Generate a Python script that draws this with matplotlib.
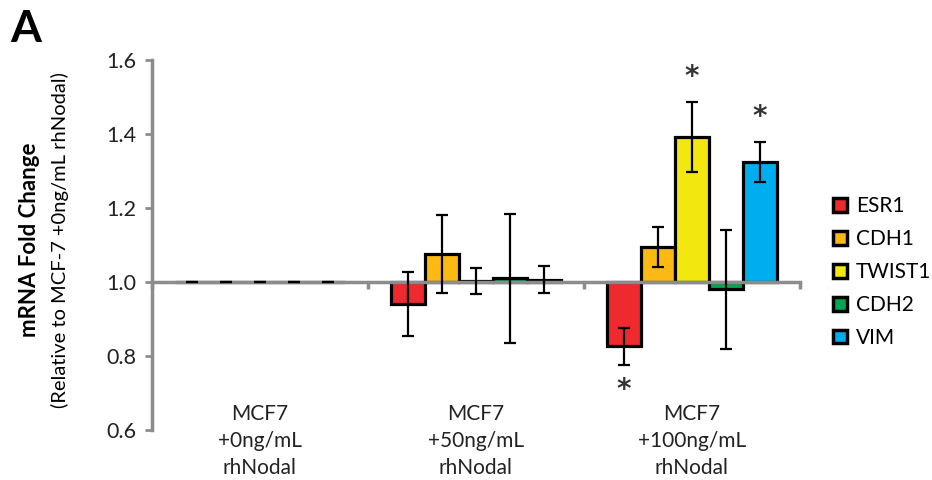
import numpy as np
import matplotlib
matplotlib.use("Agg")
import matplotlib.pyplot as plt
from matplotlib.patches import Patch

plt.rcParams['font.family'] = ['Lato', 'DejaVu Sans']

grupos = ["MCF7\n+0ng/mL\nrhNodal", "MCF7\n+50ng/mL\nrhNodal", "MCF7\n+100ng/mL\nrhNodal"]
genes = ["ESR1", "CDH1", "TWIST1", "CDH2", "VIM"]
colores = ["#EE2A2F", "#FDB913", "#F2E70F", "#00A650", "#00AEEF"]

# fold change por gen (filas) y grupo (columnas)
medias = np.array([
    [1.0, 0.940, 0.827],
    [1.0, 1.076, 1.095],
    [1.0, 1.003, 1.392],
    [1.0, 1.010, 0.980],
    [1.0, 1.006, 1.324],
])
errores = np.array([
    [0.0, 0.087, 0.050],
    [0.0, 0.106, 0.054],
    [0.0, 0.036, 0.095],
    [0.0, 0.174, 0.160],
    [0.0, 0.037, 0.055],
])
# asteriscos: (gen, grupo, arriba/abajo)
significativos = [(2, 2, 1), (4, 2, 1), (0, 2, -1)]

gris = "#8c8c8c"
ancho_barra = 0.157
base = 1.0

fig = plt.figure(figsize=(9.32, 4.8), dpi=100)
ax = fig.add_axes([152/932, 50/480, (800-152)/932, 370/480])

x = np.arange(len(grupos))
for i, gen in enumerate(genes):
    pos = x + (i - 2) * ancho_barra
    ax.bar(pos, medias[i] - base, bottom=base, width=ancho_barra,
           color=colores[i], edgecolor="black", linewidth=2.3, zorder=2)
    ax.errorbar(pos, medias[i], yerr=errores[i], fmt="none", ecolor="black",
                elinewidth=1.6, capsize=4, capthick=1.6, zorder=4)

for g, c, lado in significativos:
    pos = x[c] + (g - 2) * ancho_barra
    y = medias[g, c] + lado * (errores[g, c] + 0.068)
    ax.text(pos, y, "*", ha="center", va="center", fontsize=20, color="#333333",
            family="DejaVu Sans", fontweight="bold")

ax.set_xlim(-0.5, 2.5)
ax.set_ylim(0.6, 1.6)
ax.set_yticks(np.arange(0.6, 1.61, 0.2))
ax.set_yticklabels([f"{v:.1f}" for v in np.arange(0.6, 1.61, 0.2)])

for s in ["top", "right"]:
    ax.spines[s].set_visible(False)
ax.spines["left"].set_color(gris)
ax.spines["left"].set_linewidth(2.5)
ax.spines["bottom"].set_position(("data", 1.0))
ax.spines["bottom"].set_color(gris)
ax.spines["bottom"].set_linewidth(2.5)
ax.spines["bottom"].set_zorder(3)

ax.set_xticks([-0.5, 0.5, 1.5, 2.5])
ax.set_xticklabels([])
ax.tick_params(axis="x", direction="out", length=5, width=2.5, color=gris)
ax.tick_params(axis="y", direction="out", length=5, width=2, color=gris,
               labelsize=15.5, pad=6, labelcolor="#222222")

for c, etiqueta in enumerate(grupos):
    ax.text(x[c], 0.57, etiqueta, ha="center", va="center", fontsize=15,
            linespacing=1.42, color="#222222", clip_on=False)

fig.text(30/932, 0.5, "mRNA Fold Change", rotation=90, ha="center",
         va="center", fontsize=16, fontweight="bold")
fig.text(60/932, 0.5, "(Relative to MCF-7 +0ng/mL rhNodal)", rotation=90,
         ha="center", va="center", fontsize=14.5)
fig.text(10/932, 1 - 29/480, "A", fontsize=32, fontweight="bold", va="center")

handles = [Patch(facecolor=colores[i], edgecolor="black", linewidth=2.5, label=genes[i])
           for i in range(len(genes))]
fig.legend(handles=handles, loc="center left", bbox_to_anchor=(833/932, 1 - 272/480),
           frameon=False, fontsize=15, handlelength=0.65, handleheight=0.65,
           handletextpad=0.45, labelspacing=0.62, borderpad=0, borderaxespad=0)

fig.savefig("out.png", dpi=100)
